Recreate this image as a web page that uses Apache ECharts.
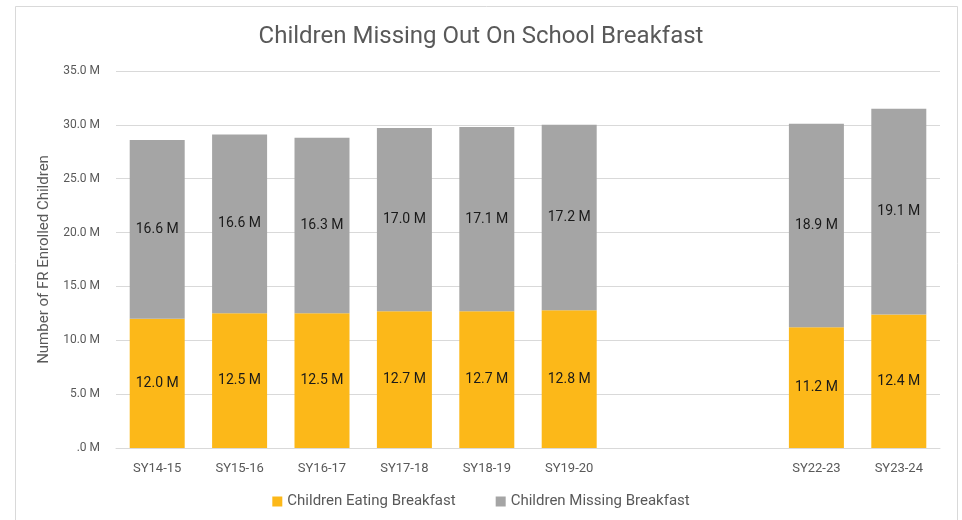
<!DOCTYPE html>
<html>
<head>
<meta charset="utf-8">
<script src="https://cdn.jsdelivr.net/npm/echarts@6/dist/echarts.min.js"></script>
<style>html,body{margin:0;padding:0;background:#fff}#c{width:962px;height:520px}</style>
</head>
<body>
<div id="c"></div>
<script>
const categories = ['SY14-15','SY15-16','SY16-17','SY17-18','SY18-19','SY19-20','','','SY22-23','SY23-24'];
const eating = [12.0, 12.5, 12.5, 12.7, 12.7, 12.8, null, null, 11.2, 12.4];
const missing = [16.6, 16.6, 16.3, 17.0, 17.1, 17.2, null, null, 18.9, 19.1];
const yTicks = {min: 0, max: 35, interval: 5};

const chart = echarts.init(document.getElementById('c'), null, {renderer: 'canvas'});
const fmt = v => v.toFixed(1) + ' M';
const labelStyle = {show: true, position: 'inside', color: '#1a1a1a', fontFamily: 'Roboto', fontSize: 14,
  formatter: p => p.value == null ? '' : fmt(p.value)};
chart.setOption({
  animation: false,
  backgroundColor: '#fff',
  graphic: [{type: 'rect', shape: {x: 15.5, y: 6.5, width: 942, height: 530},
    style: {fill: 'none', stroke: '#d9d9d9', lineWidth: 1}, silent: true, z: -1}],
  title: {text: 'Children Missing Out On School Breakfast', left: 'center', top: 20,
    textStyle: {fontFamily: 'Roboto', fontWeight: 'normal', fontSize: 24, color: '#595959'}},
  grid: {left: 116, right: 22, top: 71, bottom: 72},
  legend: {bottom: 6, left: 'center', itemWidth: 10, itemHeight: 10, itemGap: 40, icon: 'rect',
    textStyle: {fontFamily: 'Roboto', fontSize: 15, color: '#595959'},
    data: ['Children Eating Breakfast', 'Children Missing Breakfast']},
  xAxis: {type: 'category', data: categories,
    axisLine: {lineStyle: {color: '#d9d9d9'}}, axisTick: {show: false},
    axisLabel: {fontFamily: 'Roboto', fontSize: 13, color: '#595959', margin: 14}},
  yAxis: {type: 'value', min: yTicks.min, max: yTicks.max, interval: yTicks.interval,
    name: 'Number of FR Enrolled Children', nameLocation: 'middle', nameGap: 64,
    nameTextStyle: {fontFamily: 'Roboto', fontSize: 15, color: '#595959'},
    axisLabel: {fontFamily: 'Roboto', fontSize: 12, color: '#595959', margin: 16,
      formatter: v => v === 0 ? '.0 M' : fmt(v)},
    splitLine: {lineStyle: {color: '#d9d9d9'}}},
  series: [
    {name: 'Children Eating Breakfast', type: 'bar', stack: 't', data: eating, barWidth: 55,
      itemStyle: {color: '#FCB819'}, label: labelStyle},
    {name: 'Children Missing Breakfast', type: 'bar', stack: 't', data: missing, barWidth: 55,
      itemStyle: {color: '#A5A5A5'}, label: labelStyle}
  ]
});
</script>
</body>
</html>
